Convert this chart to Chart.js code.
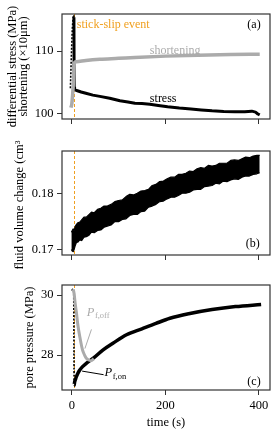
<!DOCTYPE html>
<html><head><meta charset="utf-8">
<script src="https://cdn.jsdelivr.net/npm/chart.js@4"></script>
<style>
html,body{margin:0;padding:0;background:#fff;}
#wrap{position:relative;width:275px;height:433px;overflow:hidden;background:#fff}
canvas{position:absolute;left:0}
</style></head><body>
<div id="wrap">
<canvas id="ca" style="top:0px" width="275" height="140"></canvas>
<canvas id="cb" style="top:140px" width="275" height="130"></canvas>
<canvas id="cc" style="top:270px" width="275" height="163"></canvas>
</div>
<script>
// ---------- data ----------
const timeTicks = [0, 200, 400];
const eventTime = 5;

const stressTicks = [100, 110];
const stressT = [-3, -1.5, 1, 3, 4.5, 5, 6, 8, 12, 20, 30, 45, 60, 81, 103, 120, 135, 150, 167, 185, 205, 230, 255, 277, 300, 325, 349, 370, 385, 393, 398, 402];
const stressV = [104.1, 108.0, 113.5, 115.6, 115.4, 104.2, 103.9, 103.8, 103.7, 103.5, 103.3, 103.0, 102.8, 102.5, 102.1, 101.9, 101.7, 101.65, 101.55, 101.35, 101.15, 100.95, 100.8, 100.65, 100.5, 100.4, 100.35, 100.35, 100.45, 100.3, 100.0, 99.85];

const shortT = [-2, 0, 3, 5, 6, 10, 30, 60, 100, 135, 200, 270, 340, 402];
const shortV = [101.0, 101.6, 104.5, 107.8, 108.2, 108.3, 108.5, 108.7, 108.85, 109.0, 109.2, 109.35, 109.45, 109.5];

const volTicks = [0.17, 0.18];
const volT = [-1, 1, 3, 5, 7, 10, 13, 17, 21, 26, 31, 36, 42, 48, 55, 62, 69, 76, 84, 92, 100, 108, 116, 124, 132, 140, 148, 156, 164, 172, 180, 188, 196, 204, 212, 220, 228, 236, 244, 252, 260, 268, 276, 284, 292, 300, 308, 316, 324, 332, 340, 348, 356, 364, 372, 380, 388, 396, 402];
const volUpper = [0.1731, 0.1734, 0.1737, 0.1733, 0.1741, 0.1745, 0.1748, 0.1749, 0.1753, 0.1758, 0.1758, 0.1762, 0.1767, 0.1766, 0.1772, 0.1774, 0.1778, 0.1778, 0.1781, 0.1786, 0.1788, 0.1789, 0.1795, 0.1799, 0.1798, 0.1801, 0.1805, 0.1806, 0.1808, 0.1815, 0.1817, 0.1822, 0.1823, 0.1827, 0.1830, 0.1830, 0.1835, 0.1835, 0.1837, 0.1841, 0.1840, 0.1845, 0.1847, 0.1846, 0.1851, 0.1850, 0.1851, 0.1855, 0.1855, 0.1855, 0.1860, 0.1861, 0.1860, 0.1863, 0.1866, 0.1865, 0.1868, 0.1869, 0.1869];
const volLower = [0.1700, 0.1697, 0.1696, 0.1700, 0.1706, 0.1713, 0.1713, 0.1717, 0.1716, 0.1722, 0.1723, 0.1725, 0.1731, 0.1730, 0.1734, 0.1735, 0.1740, 0.1742, 0.1744, 0.1750, 0.1750, 0.1754, 0.1755, 0.1761, 0.1763, 0.1763, 0.1768, 0.1769, 0.1776, 0.1778, 0.1781, 0.1786, 0.1787, 0.1791, 0.1794, 0.1794, 0.1797, 0.1801, 0.1801, 0.1803, 0.1807, 0.1808, 0.1808, 0.1813, 0.1814, 0.1815, 0.1819, 0.1818, 0.1823, 0.1822, 0.1825, 0.1827, 0.1826, 0.1830, 0.1832, 0.1832, 0.1835, 0.1836, 0.1838];

const presTicks = [28, 30];
const pOnT = [0, 2, 4, 5, 6, 8, 10, 13, 17, 23, 31, 46, 67, 88, 117, 150, 180, 210, 250, 300, 350, 405];
const pOnV = [30.15, 30.2, 30.15, 27.0, 27.1, 27.2, 27.29, 27.4, 27.51, 27.62, 27.73, 27.9, 28.18, 28.4, 28.68, 28.88, 29.06, 29.23, 29.38, 29.52, 29.62, 29.69];
const pOffT = [3, 5, 7, 10, 13, 17, 21, 24, 28, 31, 36, 42, 47];
const pOffV = [30.2, 30.05, 29.75, 29.4, 29.0, 28.62, 28.3, 28.12, 27.98, 27.9, 27.84, 27.82, 27.88];

// ---------- style ----------
const SERIF = '"Liberation Serif", "Times New Roman", serif';
const ORANGE = '#F0A020';
const GREY = '#ababab';
const FRAME = '#333';

const pts = (xs, ys) => xs.map((x, i) => ({x: x, y: ys[i]}));

function framePlugin() {
  return {
    id: 'frame',
    beforeDatasetsDraw(chart) {
      const {ctx, chartArea: a, scales} = chart;
      const x = scales.x.getPixelForValue(eventTime);
      ctx.save();
      ctx.strokeStyle = ORANGE; ctx.lineWidth = 1; ctx.setLineDash([3, 2]);
      ctx.beginPath(); ctx.moveTo(Math.round(x) + 0.5, a.top); ctx.lineTo(Math.round(x) + 0.5, a.bottom); ctx.stroke();
      ctx.restore();
    },
    afterDatasetsDraw(chart) {
      const {ctx, chartArea: a} = chart;
      ctx.save();
      ctx.strokeStyle = FRAME; ctx.lineWidth = 1.2;
      ctx.strokeRect(a.left, a.top, a.right - a.left, a.bottom - a.top);
      ctx.restore();
    }
  };
}

function notesPlugin(notes) {
  return {
    id: 'notes',
    afterDatasetsDraw(chart) {
      const {ctx, scales} = chart;
      ctx.save();
      ctx.textBaseline = 'middle';
      notes.forEach(n => {
        const px = scales.x.getPixelForValue(n.x);
        const py = scales.y.getPixelForValue(n.y);
        if (n.line) {
          ctx.strokeStyle = n.color; ctx.lineWidth = 1;
          ctx.beginPath();
          ctx.moveTo(scales.x.getPixelForValue(n.line[0]), scales.y.getPixelForValue(n.line[1]));
          ctx.lineTo(scales.x.getPixelForValue(n.line[2]), scales.y.getPixelForValue(n.line[3]));
          ctx.stroke();
          return;
        }
        ctx.fillStyle = n.color;
        if (n.sub) {
          ctx.textAlign = 'left';
          ctx.font = 'italic 12.5px ' + SERIF;
          ctx.fillText('P', px, py);
          const w = ctx.measureText('P').width;
          ctx.font = '8.5px ' + SERIF;
          ctx.fillText(n.sub, px + w + 0.5, py + 3.5);
        } else {
          ctx.textAlign = n.align || 'left';
          ctx.font = (n.size || 12) + 'px ' + SERIF;
          ctx.fillText(n.text, px, py);
        }
      });
      ctx.restore();
    }
  };
}

function makeChart(id, o) {
  return new Chart(document.getElementById(id), {
    type: 'line',
    data: {datasets: o.datasets},
    options: {
      responsive: false, animation: false,
      layout: {padding: {left: 0, right: 5, top: o.padTop, bottom: 0}},
      plugins: {legend: {display: false}, tooltip: {enabled: false}},
      elements: {point: {radius: 0}, line: {tension: 0.3, borderJoinStyle: 'round'}},
      scales: {
        x: {
          type: 'linear', min: -21, max: 424,
          afterBuildTicks: s => { s.ticks = timeTicks.map(v => ({value: v})); },
          afterFit: s => { s.height = o.xHeight; },
          grid: {drawOnChartArea: false, drawTicks: true, tickLength: 5, tickColor: FRAME, tickWidth: 1},
          border: {display: false},
          ticks: {color: o.xLabels ? '#000' : 'rgba(0,0,0,0)', font: {family: SERIF, size: 12.5}, padding: 3.5, maxRotation: 0, autoSkip: false},
          title: o.xLabels ? {display: true, text: 'time (s)', color: '#000', font: {family: SERIF, size: 12.5, lineHeight: 1.2}, padding: {top: 0, bottom: 2.5}} : {display: false}
        },
        y: {
          type: 'linear', min: o.yMin, max: o.yMax,
          afterBuildTicks: s => { s.ticks = o.yTicks.map(v => ({value: v})); },
          afterFit: s => { s.width = 62; },
          grid: {drawOnChartArea: false, drawTicks: true, tickLength: 5, tickColor: FRAME, tickWidth: 1},
          border: {display: false},
          ticks: {color: '#000', font: {family: SERIF, size: 12.5}, padding: 3.5, callback: o.yFmt},
          title: {display: true, text: o.yTitle, color: '#000', font: {family: SERIF, size: 12.5, lineHeight: o.titleLH}, padding: {top: o.titlePad, bottom: 0}}
        }
      }
    },
    plugins: [framePlugin(), notesPlugin(o.notes)]
  });
}

const thinSpike = (limit) => ({
  borderWidth: c => (c.p1.parsed.x <= limit ? 1.6 : undefined),
  borderDash: c => (c.p1.parsed.x <= limit ? [2, 1.5] : undefined)
});

// (a)
makeChart('ca', {
  padTop: 14, xHeight: 21, xLabels: false,
  yMin: 99.2, yMax: 115.9, yTicks: stressTicks, yFmt: v => String(v),
  yTitle: ['differential stress (MPa)', 'shortening (\u00d710\u03bcm)'], titleLH: 0.92, titlePad: 6.75,
  datasets: [
    {data: pts(shortT, shortV), borderColor: GREY, borderWidth: 3.5, tension: 0.2, cubicInterpolationMode: 'monotone'},
    {data: pts(stressT, stressV), borderColor: '#000', borderWidth: 3, tension: 0, segment: thinSpike(4.6)}
  ],
  notes: [
    {text: 'stick-slip event', x: 10.5, y: 114.1, color: ORANGE},
    {text: '(a)', x: 404, y: 114.1, color: '#000', align: 'right'},
    {text: 'shortening', x: 167, y: 110.05, color: GREY},
    {text: 'stress', x: 167, y: 102.45, color: '#000'}
  ]
});

// (b)
makeChart('cb', {
  padTop: 9, xHeight: 15, xLabels: false,
  yMin: 0.169, yMax: 0.1877, yTicks: volTicks, yFmt: v => v.toFixed(2),
  yTitle: 'fluid volume change (cm\u00b3)', titleLH: 1.2, titlePad: 12.5,
  datasets: [
    {data: pts(volT, volUpper), borderColor: '#000', backgroundColor: '#000', borderWidth: 1.2, tension: 0, fill: '+1'},
    {data: pts(volT, volLower), borderColor: '#000', borderWidth: 1.2, tension: 0, fill: false}
  ],
  notes: [
    {text: '(b)', x: 402, y: 0.17094, color: '#000', align: 'right'}
  ]
});

// (c)
makeChart('cc', {
  padTop: 15, xHeight: 43, xLabels: true,
  yMin: 26.84, yMax: 30.34, yTicks: presTicks, yFmt: v => String(v),
  yTitle: 'pore pressure (MPa)', titleLH: 1.2, titlePad: 22.5,
  datasets: [
    {data: pts(pOffT, pOffV), borderColor: GREY, borderWidth: 3, tension: 0.3},
    {data: pts(pOnT, pOnV), borderColor: '#000', borderWidth: 3.5, tension: 0.3, cubicInterpolationMode: 'monotone', segment: thinSpike(5)}
  ],
  notes: [
    {line: [42, 28.86, 28, 28.22], color: GREY},
    {sub: 'f,off', x: 32, y: 29.42, color: GREY},
    {line: [22, 27.47, 68, 27.35], color: '#000'},
    {sub: 'f,on', x: 70, y: 27.4, color: '#000'},
    {text: '(c)', x: 404, y: 27.1, color: '#000', align: 'right'}
  ]
});
</script>
</body></html>
